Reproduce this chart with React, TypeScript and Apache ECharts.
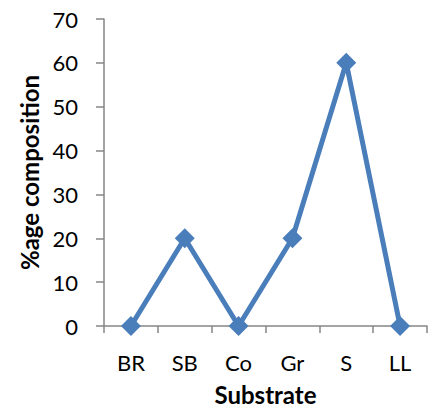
import React, { useEffect, useRef } from "react";
import * as echarts from "echarts";

const categories = ["BR", "SB", "Co", "Gr", "S", "LL"];
const composition = [0, 20, 0, 20, 60, 0];
const yTicks = { min: 0, max: 70, interval: 10 };

export default function App() {
  const ref = useRef<HTMLDivElement>(null);
  useEffect(() => {
    if (!ref.current) return;
    const chart = echarts.init(ref.current, undefined, { renderer: "svg" });
    const axisColor = "#868686";
    const font = "Lato, 'Open Sans', sans-serif";
    chart.setOption({
      animation: false,
      backgroundColor: "#ffffff",
      grid: { left: 104, right: 9, top: 19, bottom: 82, containLabel: false },
      xAxis: {
        type: "category",
        data: categories,
        boundaryGap: true,
        name: "Substrate",
        nameLocation: "middle",
        nameGap: 56,
        nameTextStyle: { fontFamily: font, fontSize: 24, fontWeight: "bold", color: "#000" },
        axisLine: { lineStyle: { color: axisColor, width: 1.5 } },
        axisTick: { show: true, alignWithLabel: false, length: 7, lineStyle: { color: axisColor, width: 1.5 } },
        axisLabel: { fontFamily: font, fontSize: 22, color: "#000", margin: 25 },
        splitLine: { show: false },
      },
      yAxis: {
        type: "value",
        min: yTicks.min,
        max: yTicks.max,
        interval: yTicks.interval,
        name: "%age composition",
        nameLocation: "middle",
        nameGap: 62,
        nameTextStyle: { fontFamily: font, fontSize: 24, fontWeight: "bold", color: "#000" },
        axisLine: { show: true, lineStyle: { color: axisColor, width: 1.5 } },
        axisTick: { show: true, length: 8, lineStyle: { color: axisColor, width: 1.5 } },
        axisLabel: { fontFamily: font, fontSize: 22, color: "#000", margin: 26 },
        splitLine: { show: false },
      },
      series: [
        {
          type: "line",
          data: composition,
          symbol: "diamond",
          symbolSize: 20,
          lineStyle: { color: "#4a7ebb", width: 5 },
          itemStyle: { color: "#4a7ebb" },
        },
      ],
    });
    return () => chart.dispose();
  }, []);
  return <div ref={ref} style={{ width: 436, height: 411, position: "absolute", left: 0, top: 0 }} />;
}
